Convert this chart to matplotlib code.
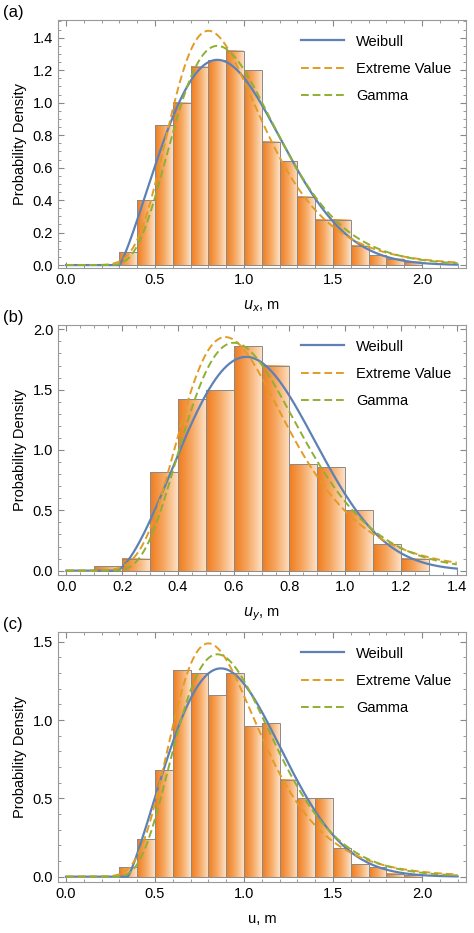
import math
import numpy as np
import matplotlib
matplotlib.use("Agg")
import matplotlib.pyplot as plt
from matplotlib.colors import LinearSegmentedColormap

plt.rcParams["font.family"] = ["Liberation Sans", "DejaVu Sans"]

# histogram data (bin width 0.1)
ux_start = 0.3
ux_heights = [0.08, 0.40, 0.86, 1.00, 1.22, 1.26, 1.32, 1.20, 0.76, 0.64, 0.42,
              0.28, 0.28, 0.12, 0.06, 0.04, 0.02]
uy_start = 0.1
uy_heights = [0.04, 0.10, 0.82, 1.42, 1.50, 1.86, 1.70, 0.88, 0.86, 0.50, 0.22, 0.10]
u_start = 0.3
u_heights = [0.06, 0.24, 0.68, 1.32, 1.30, 1.16, 1.30, 0.96, 0.98, 0.62, 0.50,
             0.50, 0.18, 0.08, 0.06, 0.02, 0.01]

# fitted distribution parameters (estimated from the figure)
# weibull: (loc, shape, scale); extreme value: (mu, beta); gamma: (loc, k, theta)
ux_fit = dict(weibull=(0.30, 2.2, 0.725), ev=(0.80, 0.255), gamma=(0.20, 6, 0.130))
uy_fit = dict(weibull=(0.18, 2.5, 0.570), ev=(0.57, 0.190), gamma=(0.136, 6, 0.0929))
u_fit = dict(weibull=(0.347, 2.2, 0.689), ev=(0.80, 0.247), gamma=(0.232, 6, 0.1236))

C_W, C_EV, C_G = "#5e81b5", "#e19c24", "#8fb032"
bar_cmap = LinearSegmentedColormap.from_list("bar", ["#f07c1e", "#f6a862", "#fde0c4"])


def weibull_pdf(x, loc, c, lam):
    z = np.clip((x - loc) / lam, 0, None)
    return np.where(x > loc, c / lam * z ** (c - 1) * np.exp(-z ** c), 0.0)


def ev_pdf(x, mu, beta):
    z = (x - mu) / beta
    return np.exp(-z - np.exp(-z)) / beta


def gamma_pdf(x, loc, k, theta):
    z = np.clip(x - loc, 0, None)
    return np.where(x > loc, z ** (k - 1) * np.exp(-z / theta) / (math.gamma(k) * theta ** k), 0.0)


def draw_panel(ax, start, heights, fit, xmax, xlim, ylim, xticks, yticks, xlabel, tag):
    grad = np.linspace(0, 1, 64).reshape(1, -1)
    for i, h in enumerate(heights):
        x0 = start + 0.1 * i
        ax.imshow(grad, cmap=bar_cmap, extent=[x0, x0 + 0.1, 0, h], aspect="auto",
                  zorder=1, interpolation="bilinear")
        ax.add_patch(plt.Rectangle((x0, 0), 0.1, h, fill=False, ec="#8a8a8a", lw=0.7, zorder=2))
    x = np.linspace(0, xmax, 600)
    ax.plot(x, weibull_pdf(x, *fit["weibull"]), color=C_W, lw=1.6, label="Weibull", zorder=3)
    ax.plot(x, ev_pdf(x, *fit["ev"]), color=C_EV, lw=1.4, ls=(0, (4, 2)), label="Extreme Value", zorder=3)
    ax.plot(x, gamma_pdf(x, *fit["gamma"]), color=C_G, lw=1.4, ls=(0, (4, 2)), label="Gamma", zorder=3)
    ax.set_xlim(*xlim)
    ax.set_ylim(*ylim)
    ax.set_xticks(xticks)
    ax.set_yticks(yticks)
    ax.minorticks_on()
    ax.tick_params(which="both", direction="in", top=True, right=True, color="#888888",
                   labelsize=10.5)
    ax.tick_params(which="major", length=4)
    ax.tick_params(which="minor", length=2)
    for s in ax.spines.values():
        s.set_color("#999999")
    ax.set_ylabel("Probability Density", fontsize=10.5)
    ax.set_xlabel(xlabel, fontsize=10.5, labelpad=8)
    ax.legend(loc="upper right", frameon=False, fontsize=10.5, handlelength=3,
              borderaxespad=0.6, labelspacing=0.9)
    ax.text(-0.135, 1.0, tag, transform=ax.transAxes, fontsize=12, va="bottom")


fig = plt.figure(figsize=(4.74, 9.33), dpi=100)
W, H = 474, 933
axes_px = [(20, 268), (325, 575), (632, 882)]
axs = [fig.add_axes([58 / W, 1 - b / H, 408 / W, (b - t) / H]) for t, b in axes_px]

draw_panel(axs[0], ux_start, ux_heights, ux_fit, 2.2, (-0.045, 2.247), (-0.018, 1.509),
           [0, 0.5, 1.0, 1.5, 2.0], [0, 0.2, 0.4, 0.6, 0.8, 1.0, 1.2, 1.4],
           "$u_x$, m", "(a)")
draw_panel(axs[1], uy_start, uy_heights, uy_fit, 1.4, (-0.03, 1.433), (-0.036, 2.036),
           [0, 0.2, 0.4, 0.6, 0.8, 1.0, 1.2, 1.4], [0, 0.5, 1.0, 1.5, 2.0],
           "$u_y$, m", "(b)")
draw_panel(axs[2], u_start, u_heights, u_fit, 2.2, (-0.045, 2.247), (-0.034, 1.562),
           [0, 0.5, 1.0, 1.5, 2.0], [0, 0.5, 1.0, 1.5],
           "u, m", "(c)")
for ax in axs:
    ax.xaxis.set_major_formatter(matplotlib.ticker.FormatStrFormatter("%.1f"))
    ax.yaxis.set_major_formatter(matplotlib.ticker.FormatStrFormatter("%.1f"))

fig.savefig("out.png", dpi=100)
